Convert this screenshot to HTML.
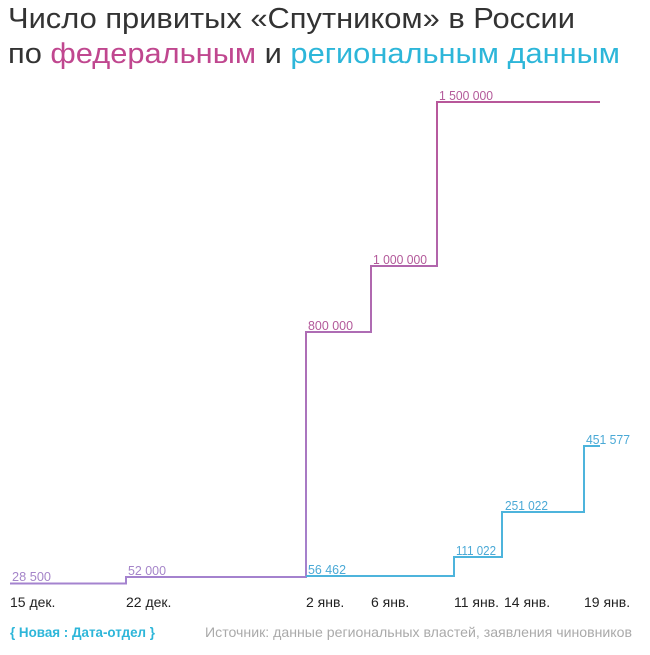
<!DOCTYPE html>
<html><head><meta charset="utf-8"><style>
body{margin:0;background:#fff;width:650px;height:650px;overflow:hidden;font-family:"Liberation Sans",sans-serif}
</style></head><body>
<svg width="650" height="650" viewBox="0 0 650 650" xmlns="http://www.w3.org/2000/svg" font-family="Liberation Sans, sans-serif">
<defs><linearGradient id="g" x1="0" y1="583" x2="0" y2="100" gradientUnits="userSpaceOnUse">
<stop offset="0" stop-color="#a483cf"/><stop offset="1" stop-color="#b8579a"/></linearGradient></defs>
<text x="8" y="28" font-size="29" fill="#333" textLength="567" lengthAdjust="spacingAndGlyphs">Число привитых «Спутником» в России</text>
<text x="8" y="63" font-size="29" fill="#333" textLength="612" lengthAdjust="spacingAndGlyphs">по <tspan fill="#c0478f">федеральным</tspan> и <tspan fill="#2db6d9">региональным данным</tspan></text>
<path d="M10 583.5H126V577H306V332H371V266H437V102H600" fill="none" stroke="url(#g)" stroke-width="2"/>
<path d="M306 576H454V557H502V512H584V446H600" fill="none" stroke="#4db4dc" stroke-width="2"/>
<g font-size="13" fill="#a585c9">
<text x="12" y="581" textLength="39" lengthAdjust="spacingAndGlyphs">28 500</text><text x="128" y="575" textLength="38" lengthAdjust="spacingAndGlyphs">52 000</text></g>
<g font-size="13" fill="#b3599a">
<text x="308" y="330" textLength="45" lengthAdjust="spacingAndGlyphs">800 000</text><text x="373" y="264" textLength="54" lengthAdjust="spacingAndGlyphs">1 000 000</text><text x="439" y="100" textLength="54" lengthAdjust="spacingAndGlyphs">1 500 000</text></g>
<g font-size="13" fill="#4aa9d6">
<text x="308" y="574" textLength="38" lengthAdjust="spacingAndGlyphs">56 462</text><text x="456" y="555" textLength="40" lengthAdjust="spacingAndGlyphs">111 022</text><text x="505" y="510" textLength="43" lengthAdjust="spacingAndGlyphs">251 022</text><text x="586" y="444" textLength="44" lengthAdjust="spacingAndGlyphs">451 577</text></g>
<g font-size="14" fill="#222">
<text x="10" y="607">15 дек.</text><text x="126" y="607">22 дек.</text><text x="306" y="607">2 янв.</text><text x="371" y="607">6 янв.</text><text x="454" y="607">11 янв.</text><text x="504" y="607">14 янв.</text><text x="584" y="607">19 янв.</text></g>
<text x="10" y="637" font-size="14" font-weight="bold" fill="#2db6d9" textLength="145" lengthAdjust="spacingAndGlyphs">{ Новая : Дата-отдел }</text>
<text x="632" y="637" font-size="14" fill="#aaa" text-anchor="end" textLength="427" lengthAdjust="spacingAndGlyphs">Источник: данные региональных властей, заявления чиновников</text>
</svg>
</body></html>
